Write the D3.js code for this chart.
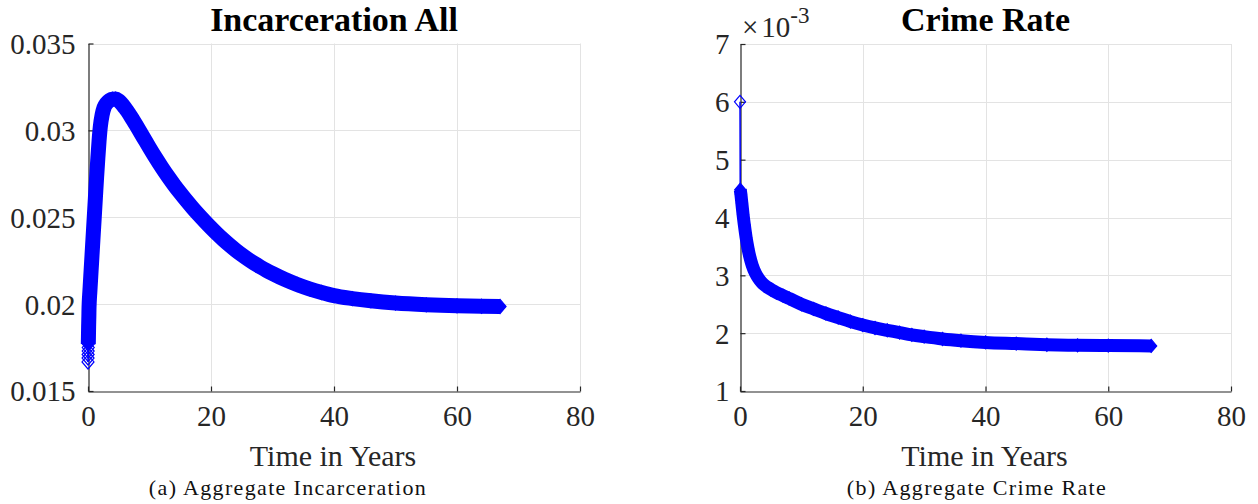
<!DOCTYPE html>
<html><head><meta charset="utf-8">
<script src="https://cdn.jsdelivr.net/npm/d3@7"></script>
<style>
html,body{margin:0;padding:0;background:#fff;}
svg{display:block;}
text{font-family:"Liberation Serif","Times New Roman","DejaVu Serif",serif;}
</style></head>
<body>
<svg id="chart" width="1258" height="504"></svg>
<script>
// ---------- data ----------
const incTime = [0,0.01,0.02,0.03,0.04,0.05,0.06,0.07,0.08,0.09,0.10,0.12,0.14,0.16,0.2,0.3,0.4,0.5,0.6,0.7,0.8,0.9,1.0,1.2,1.4,1.6,1.8,2.0,2.3,2.6,3.0,3.5,4.0,4.5,5,6,7,8,9,10,11,12,13,14,15,16,17,18,19,20,21,22,23,24,25,26,27,28,29,30,32,34,36,38,40,43,46,50,55,60,64,67];
const incValue = [0.01667,0.0169,0.0171,0.0173,0.0175,0.0177,0.0179,0.0181,0.0183,0.0185,0.0187,0.0190,0.0193,0.0197,0.0201,0.0207,0.0213,0.0219,0.0225,0.0231,0.0237,0.0243,0.0249,0.0261,0.0273,0.0284,0.0294,0.0302,0.0309,0.0313,0.03155,0.03172,0.03179,0.03180,0.03170,0.03130,0.03078,0.03020,0.02960,0.02900,0.02842,0.02787,0.02735,0.02686,0.02640,0.02596,0.02554,0.02514,0.02476,0.02439,0.02404,0.02371,0.02340,0.02311,0.02284,0.02259,0.02236,0.022145,0.021945,0.02176,0.02142,0.02113,0.02088,0.02067,0.02049,0.02032,0.02019,0.02006,0.01996,0.01990,0.019875,0.019865];

const crimeTime = [0,0.04,0.15,0.3,0.5,0.7,1.0,1.3,1.6,2.0,2.5,3.0,3.5,4,5,6,7,8,10,12,14,16,18,20,22,24,26,28,30,33,36,40,45,50,55,60,67];
const crimeValue = [0.0060,0.00448,0.0044,0.00425,0.00405,0.00388,0.00365,0.00347,0.00332,0.00317,0.00304,0.00295,0.00288,0.00283,0.00276,0.00270,0.00265,0.00260,0.00250,0.00242,0.00234,0.00227,0.00220,0.00214,0.00209,0.00205,0.00201,0.00197,0.00194,0.00190,0.00187,0.00184,0.00182,0.00180,0.00179,0.001785,0.00178];

const xTicks = [0,20,40,60,80];
const xTickLabels = ["0","20","40","60","80"];
const incYTicks = [0.015,0.02,0.025,0.03,0.035];
const incYTickLabels = ["0.015","0.02","0.025","0.03","0.035"];
const crimeYTicks = [0.001,0.002,0.003,0.004,0.005,0.006,0.007];
const crimeYTickLabels = ["1","2","3","4","5","6","7"];

const titles = ["Incarceration All","Crime Rate"];
const xLabel = "Time in Years";
const captions = ["(a)  Aggregate Incarceration","(b)  Aggregate Crime Rate"];

// ---------- drawing ----------
const svg = d3.select("#chart");
const axisColor = "#262626";
const gridColor = "#e3e3e3";
const blue = "#0000ff";
const serif = "Liberation Serif, Times New Roman, DejaVu Serif, serif";

function panel(opts){
  const x = d3.scaleLinear().domain([0,80]).range([opts.left, opts.right]);
  const y = d3.scaleLinear().domain(opts.yDomain).range([opts.bottom, opts.top]);
  const g = svg.append("g");

  // grid
  g.append("g").selectAll("line").data(xTicks.slice(1)).join("line")
    .attr("x1", d => Math.round(x(d))+0.5).attr("x2", d => Math.round(x(d))+0.5)
    .attr("y1", opts.top).attr("y2", opts.bottom)
    .attr("stroke", gridColor).attr("stroke-width",1);
  g.append("g").selectAll("line").data(opts.yTicks.slice(1)).join("line")
    .attr("y1", d => Math.round(y(d))+0.5).attr("y2", d => Math.round(y(d))+0.5)
    .attr("x1", opts.left).attr("x2", opts.right)
    .attr("stroke", gridColor).attr("stroke-width",1);

  // axes via d3 axis (inward ticks)
  const xAxis = d3.axisBottom(x).tickValues(xTicks).tickSizeInner(-5).tickSizeOuter(0)
    .tickFormat((d,i) => xTickLabels[i]).tickPadding(14);
  const gx = g.append("g").attr("transform", `translate(0,${Math.round(opts.bottom)+0.5})`).call(xAxis);
  const yAxis = d3.axisLeft(y).tickValues(opts.yTicks).tickSizeInner(-5).tickSizeOuter(0)
    .tickFormat((d,i) => opts.yLabels[i]).tickPadding(opts.yPad);
  const gy = g.append("g").attr("transform", `translate(${Math.round(opts.left)+0.5},0)`).call(yAxis);
  [gx,gy].forEach(a => {
    a.attr("font-family", serif);
    a.select(".domain").attr("stroke", axisColor).attr("stroke-width",1.2);
    a.selectAll(".tick line").attr("stroke", axisColor).attr("stroke-width",1.2);
    a.selectAll(".tick text").attr("fill", axisColor).attr("font-size", 29);
  });
  gx.selectAll(".tick text").attr("dy", "0.71em");
  gy.selectAll(".tick text").attr("dy", "0.34em");

  // data
  const data = opts.t.map((t,i) => ({t, v: opts.v[i]}));
  const thin = d3.line().x(d => x(d.t)).y(d => y(d.v));
  g.append("path").datum(data).attr("d", thin)
    .attr("fill","none").attr("stroke", blue).attr("stroke-width",1.5);
  const band = d3.line().x(d => x(d.t)).y(d => y(d.v)).curve(d3.curveMonotoneX);
  g.append("path").datum(data.slice(opts.bandStart))
    .attr("d", band).attr("fill","none").attr("stroke", blue)
    .attr("stroke-width", opts.bandW).attr("stroke-linejoin","round").attr("stroke-linecap","butt");
  const hw = opts.dw, hh = opts.dh;
  const last = data.length - 1;
  g.append("g").selectAll("path").data(data).join("path")
    .attr("transform", d => `translate(${x(d.t)},${y(d.v)})`)
    .attr("d", `M0,${-hh}L${hw},0L0,${hh}L${-hw},0Z`)
    .attr("fill", (d,i) => (i === last || i === opts.bandStart) ? blue : "none")
    .attr("stroke", blue).attr("stroke-width",1.2);

  // title
  g.append("text").attr("x", (opts.left+opts.right)/2).attr("y", 31)
    .attr("text-anchor","middle").attr("font-weight","bold").attr("font-size",34)
    .attr("fill","#000").text(opts.title);
  // x label
  g.append("text").attr("x", (opts.left+opts.right)/2 - 1).attr("y", 466)
    .attr("text-anchor","middle").attr("font-size",30).attr("fill", axisColor).text(xLabel);
  // caption
  g.append("text").attr("x", opts.capX).attr("y", 495)
    .attr("text-anchor","middle").attr("font-size",22).attr("letter-spacing","1.35px")
    .attr("fill","#111").text(opts.caption);
  return {g,x,y};
}

panel({left:88, right:580, top:43.5, bottom:391, yDomain:[0.015,0.035],
  yTicks: incYTicks, yLabels: incYTickLabels, yPad: 13,
  t: incTime, v: incValue, bandStart: 5, bandW: 15, dw: 6, dh: 7,
  title: titles[0], caption: captions[0], capX: 288});

const p2 = panel({left:740, right:1231, top:44, bottom:391, yDomain:[0.001,0.007],
  yTicks: crimeYTicks, yLabels: crimeYTickLabels, yPad: 11,
  t: crimeTime, v: crimeValue, bandStart: 1, bandW: 13, dw: 5.5, dh: 6.5,
  title: titles[1], caption: captions[1], capX: 977});

// exponent label
const ex = p2.g.append("text").attr("x", 742).attr("y", 37).attr("font-size",29).attr("fill", axisColor);
ex.append("tspan").text("\u00d7");
ex.append("tspan").attr("dx", 3).text("10");
ex.append("tspan").attr("dy",-14).attr("font-size",23).text("-3");
</script>
</body></html>
